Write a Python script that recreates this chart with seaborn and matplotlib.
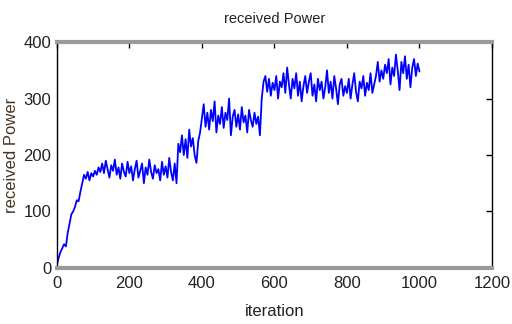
import numpy as np
import pandas as pd
import matplotlib
matplotlib.use('Agg')
import matplotlib.pyplot as plt
import seaborn as sns

# received power, one value every 5 iterations
iteration = list(range(0, 1001, 5))
power = [
    5, 18, 28, 35, 42, 38, 62, 78, 95, 100, 108, 120, 118, 135, 150, 165, 158, 170, 155, 168,
    162, 172, 165, 178, 170, 185, 168, 190, 175, 160, 182, 172, 192, 165, 178, 158, 185, 170, 162, 188,
    168, 180, 155, 175, 190, 160, 172, 185, 150, 178, 165, 192, 170, 158, 182, 168, 175, 155, 188, 165,
    180, 160, 195, 170, 155, 185, 150, 220, 205, 235, 200, 228, 195, 245, 215, 230, 200, 186, 225, 240,
    265, 290, 250, 275, 245, 280, 260, 295, 240, 270, 255, 285, 248, 275, 262, 300, 235, 268, 280, 250,
    272, 245, 285, 258, 270, 240, 280, 262, 250, 275, 255, 268, 235, 300, 330, 340, 312, 335, 305, 328,
    315, 340, 300, 330, 320, 345, 310, 355, 325, 300, 335, 318, 345, 305, 330, 295, 322, 340, 310, 330,
    345, 305, 325, 295, 335, 315, 330, 300, 320, 350, 310, 330, 300, 340, 318, 290, 325, 335, 305, 322,
    310, 335, 300, 325, 345, 312, 295, 330, 318, 340, 305, 328, 315, 345, 310, 325, 340, 365, 330, 350,
    335, 360, 345, 370, 325, 355, 340, 378, 350, 315, 365, 345, 375, 335, 360, 320, 355, 370, 340, 362,
    348,
]
xticks = [0, 200, 400, 600, 800, 1000, 1200]
yticks = [0, 100, 200, 300, 400]

df = pd.DataFrame({'iteration': iteration, 'power': power})

sns.set_style('white')
plt.rcParams['font.family'] = ['Liberation Sans', 'DejaVu Sans']

fig = plt.figure(figsize=(5.12, 3.24), dpi=100)
ax = fig.add_axes([0.111, 0.173, 0.850, 0.697])

sns.lineplot(data=df, x='iteration', y='power', color='#0000ff', linewidth=1.3, ax=ax)

ax.set_xlim(0, 1200)
ax.set_ylim(0, 400)
ax.set_xticks(xticks)
ax.set_yticks(yticks)
ax.tick_params(direction='in', length=4, width=1, colors='black',
               top=True, right=True, labelsize=12, labelcolor='#222222')
ax.tick_params(axis='x', pad=6)
ax.tick_params(axis='y', pad=4)

for side in ['left', 'right']:
    ax.spines[side].set_color('black')
    ax.spines[side].set_linewidth(1.0)
for side in ['top', 'bottom']:
    ax.spines[side].set_color('#9a9a9a')
    ax.spines[side].set_linewidth(3.0)

ax.set_title('received Power', fontsize=10.5, color='#222222', pad=14)
ax.set_xlabel('iteration', fontsize=12, color='#222222', labelpad=9)
ax.set_ylabel('received Power', fontsize=12, color='#4a3422', labelpad=3)

fig.savefig('out.png', dpi=100)
